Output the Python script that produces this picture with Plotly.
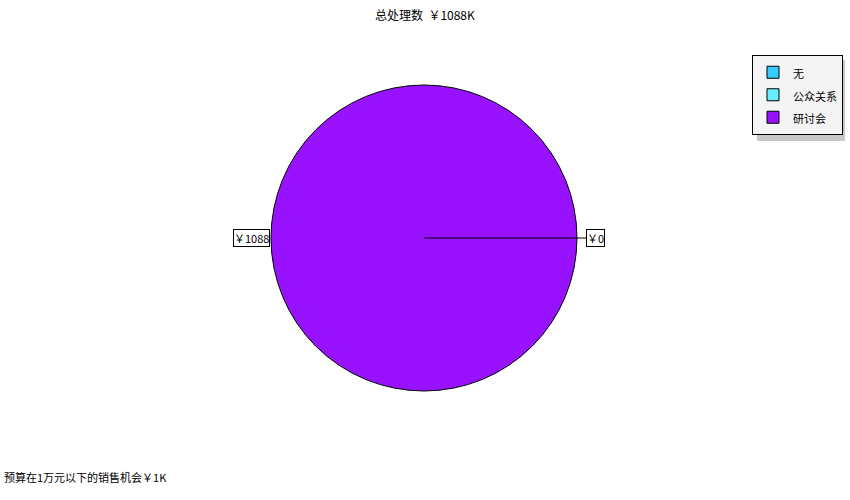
import plotly.graph_objects as go

labels = ["无", "公众关系", "研讨会"]
values = [0, 0, 1088]
colors = ["#33CCFF", "#66EEFF", "#9912FF"]
title_text = "总处理数  ￥1088K"
footer_text = "预算在1万元以下的销售机会￥1K"
slice_labels = ["￥0", "￥0", "￥1088"]

W, H = 850, 500
cx, cy = 0.4988, 1 - 238 / H
r = 153 / H

legend_names = [f"<span style='font-size:11px'>{l}</span>" for l in labels]

fig = go.Figure(go.Pie(
    labels=legend_names, values=values, sort=False,
    marker=dict(colors=colors, line=dict(color="black", width=1)),
    textinfo="none", hoverinfo="value",
    domain=dict(x=[0.05, 0.9476], y=[cy - r, cy + r]),
    rotation=90, direction="counterclockwise",
    showlegend=True,
))

font = "Noto Sans CJK SC, DejaVu Sans, sans-serif"
annotations = [
    dict(text=title_text, x=0.5, y=1 - 14 / H, xref="paper", yref="paper",
         xanchor="center", yanchor="middle",
         showarrow=False, font=dict(size=12, color="black", family=font)),
    dict(text=footer_text, x=2 / W, y=1 - 477 / H, xref="paper", yref="paper",
         xanchor="left", yanchor="middle", showarrow=False,
         font=dict(size=11, color="black", family=font)),
    dict(text=slice_labels[2], x=270 / W, y=cy, xref="paper", yref="paper",
         xanchor="right", yanchor="middle",
         showarrow=False, bordercolor="black", borderwidth=1, borderpad=0,
         bgcolor="white", font=dict(size=11, color="black", family=font)),
    dict(text=slice_labels[0], x=cx, y=cy, xref="paper", yref="paper",
         showarrow=True, arrowhead=0, arrowwidth=1, arrowcolor="black",
         ax=172, ay=0, standoff=0, bordercolor="black", borderwidth=1, borderpad=0,
         bgcolor="white", font=dict(size=11, color="black", family=font)),
]

shapes = [
    dict(type="rect", xref="paper", yref="paper",
         x0=757 / W, x1=845 / W, y0=1 - 141 / H, y1=1 - 60 / H,
         fillcolor="#C8C8C8", line=dict(width=0), layer="below"),
]

fig.update_layout(
    width=W, height=H,
    margin=dict(l=0, r=0, t=0, b=0),
    paper_bgcolor="white", plot_bgcolor="white",
    annotations=annotations, shapes=shapes,
    legend=dict(x=752 / W, y=1 - 55 / H, xanchor="left", yanchor="top",
                bgcolor="#F4F4F4", bordercolor="black", borderwidth=1,
                font=dict(size=15, color="black", family=font),
                itemwidth=30, tracegroupgap=0),
)

fig.write_html("out.html")
